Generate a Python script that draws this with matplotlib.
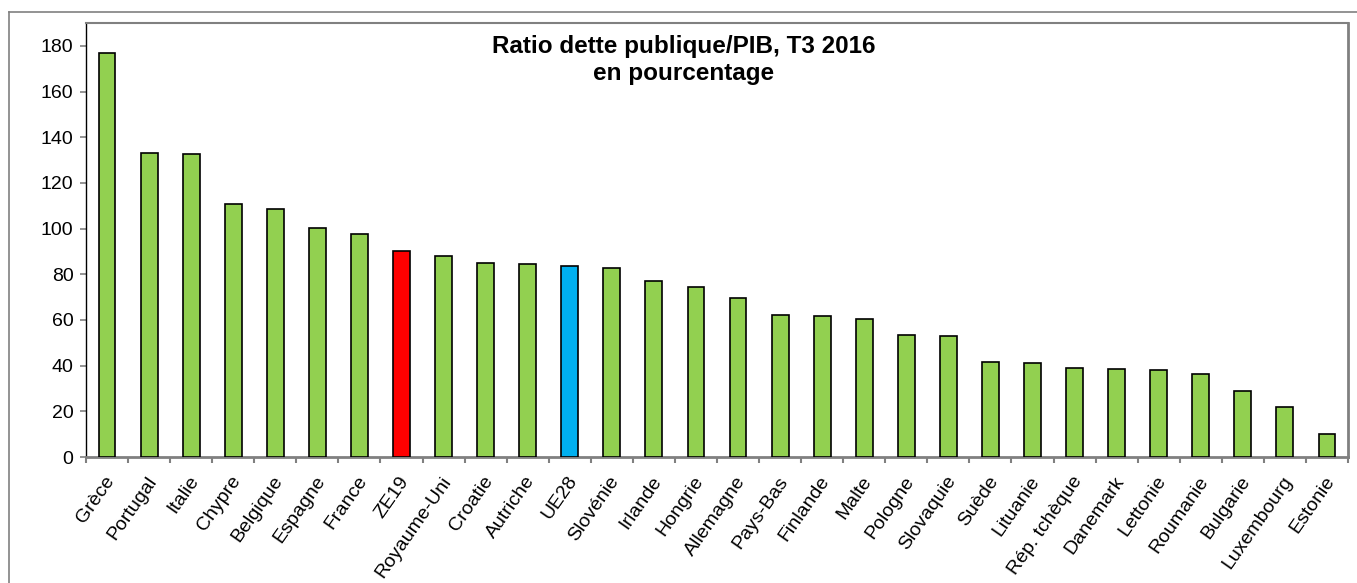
"""Ratio dette publique/PIB, T3 2016 - bar chart by country."""

import matplotlib
matplotlib.use("Agg")
import matplotlib.pyplot as plt
import matplotlib.transforms as mtransforms
from matplotlib.lines import Line2D

plt.rcParams["font.family"] = ["Liberation Sans", "DejaVu Sans"]

COUNTRIES = [
    "Grèce", "Portugal", "Italie", "Chypre", "Belgique", "Espagne", "France",
    "ZE19", "Royaume-Uni", "Croatie", "Autriche", "UE28", "Slovénie",
    "Irlande", "Hongrie", "Allemagne", "Pays-Bas", "Finlande", "Malte",
    "Pologne", "Slovaquie", "Suède", "Lituanie", "Rép. tchèque", "Danemark",
    "Lettonie", "Roumanie", "Bulgarie", "Luxembourg", "Estonie",
]
DEBT_RATIO = [
    176.9, 133.3, 132.6, 110.7, 108.7, 100.2, 97.5,
    90.1, 88.1, 84.9, 84.3, 83.4, 82.7,
    77.2, 74.4, 69.4, 62.0, 61.7, 60.5,
    53.2, 52.8, 41.4, 41.3, 38.9, 38.6,
    38.1, 36.5, 28.9, 21.7, 9.9,
]
Y_TICKS = [0, 20, 40, 60, 80, 100, 120, 140, 160, 180]

GREEN = "#92D050"
RED = "#FF0000"
BLUE = "#00B0F0"
GREY = "#808080"


def main() -> None:
    fig = plt.figure(figsize=(13.57, 5.83), dpi=100)
    ax = fig.add_axes([86 / 1357, 1 - 457 / 583, 1262 / 1357, 434 / 583])

    colors = []
    for name in COUNTRIES:
        if name == "ZE19":
            colors.append(RED)
        elif name == "UE28":
            colors.append(BLUE)
        else:
            colors.append(GREEN)

    x = range(len(COUNTRIES))
    ax.bar(x, DEBT_RATIO, width=0.4, color=colors, edgecolor="black",
           linewidth=1.2, zorder=3)

    ax.set_xlim(-0.5, len(COUNTRIES) - 0.5)
    ax.set_ylim(0, 190)
    ax.set_yticks(Y_TICKS)
    ax.tick_params(axis="y", labelsize=14, length=4.5, width=1.2,
                   color=GREY, pad=4.5)

    # labels at the bar centres, tick marks between categories (Excel style)
    ax.set_xticks(list(x))
    ax.set_xticklabels(COUNTRIES, rotation=55, ha="right", va="center",
                       rotation_mode="anchor", fontsize=14)
    ax.tick_params(axis="x", length=0, pad=15)
    shift = mtransforms.ScaledTranslation(4 / 100, 0, fig.dpi_scale_trans)
    for lbl in ax.get_xticklabels():
        lbl.set_transform(lbl.get_transform() + shift)
    ax.set_xticks([i - 0.5 for i in range(len(COUNTRIES) + 1)], minor=True)
    ax.tick_params(axis="x", which="minor", length=4, width=1.5, color=GREY)

    ax.spines["left"].set_color("black")
    ax.spines["left"].set_linewidth(1.0)
    for side in ("bottom", "top", "right"):
        ax.spines[side].set_color(GREY)
        ax.spines[side].set_linewidth(2.0)
    ax.spines["top"].set_linewidth(1.5)

    fig.text(684 / 1357, 1 - 60 / 583,
             "Ratio dette publique/PIB, T3 2016\nen pourcentage",
             ha="center", va="center", fontsize=17.5, fontweight="bold",
             linespacing=1.25)

    # outer chart frame (top and left edges visible in the picture)
    x0, y0 = 8.5 / 1357, 1 - 11.5 / 583
    fig.add_artist(Line2D([x0, 1], [y0, y0], color=GREY, lw=1.2,
                          transform=fig.transFigure))
    fig.add_artist(Line2D([x0, x0], [0, y0], color=GREY, lw=1.2,
                          transform=fig.transFigure))

    fig.savefig("out.png", dpi=100)


if __name__ == "__main__":
    main()
